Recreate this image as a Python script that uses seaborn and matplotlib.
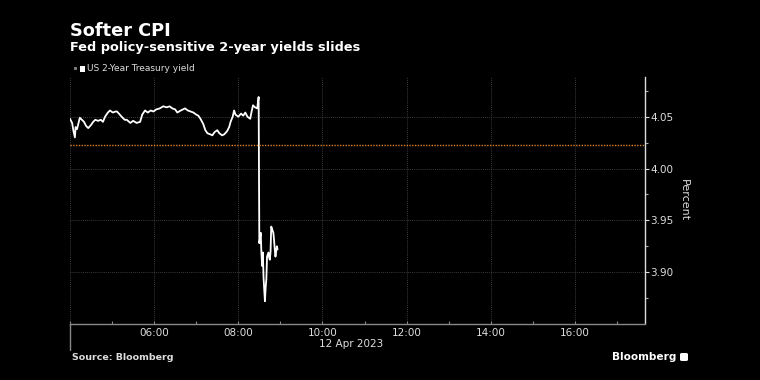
import matplotlib
matplotlib.use('Agg')
import matplotlib.pyplot as plt
import matplotlib.dates as mdates
import matplotlib.transforms as mtrans
from matplotlib.patches import Rectangle, FancyBboxPatch
import seaborn as sns
import pandas as pd

# ---------------- data ----------------
date = "2023-04-12"
times = ["04:00", "04:03", "04:05", "04:07", "04:08", "04:10", "04:14", "04:17", "04:20", "04:23",
         "04:26", "04:30", "04:33", "04:36", "04:40", "04:44", "04:47", "04:50", "04:54", "04:57",
         "05:01", "05:05", "05:07", "05:11", "05:15", "05:18", "05:21", "05:26", "05:30", "05:35",
         "05:40", "05:43", "05:47", "05:51", "05:55", "05:59", "06:03", "06:08", "06:13", "06:18",
         "06:22", "06:26", "06:30", "06:33", "06:38", "06:44", "06:48", "06:52", "06:56", "07:00",
         "07:03", "07:06", "07:10", "07:13", "07:16", "07:20", "07:23", "07:26", "07:30", "07:33",
         "07:37", "07:40", "07:44", "07:47", "07:49", "07:52", "07:54", "07:56", "08:00", "08:04",
         "08:07", "08:10", "08:13", "08:17", "08:19", "08:21", "08:24", "08:27", "08:29", "08:30",
         "08:32", "08:33", "08:34", "08:35", "08:36", "08:37", "08:38", "08:39", "08:40", "08:41",
         "08:43", "08:44", "08:45", "08:46", "08:47", "08:49", "08:50", "08:51", "08:52", "08:53",
         "08:55", "08:56"]
yields = [4.048, 4.044, 4.036, 4.030, 4.040, 4.038, 4.049, 4.047, 4.045, 4.041,
          4.039, 4.042, 4.045, 4.047, 4.046, 4.047, 4.045, 4.050, 4.054, 4.056,
          4.054, 4.055, 4.055, 4.052, 4.049, 4.047, 4.047, 4.044, 4.046, 4.044,
          4.045, 4.052, 4.056, 4.054, 4.056, 4.055, 4.057, 4.058, 4.060, 4.059,
          4.060, 4.058, 4.057, 4.054, 4.056, 4.058, 4.056, 4.055, 4.054, 4.052,
          4.051, 4.048, 4.043, 4.037, 4.034, 4.033, 4.032, 4.035, 4.037, 4.034,
          4.032, 4.033, 4.036, 4.040, 4.045, 4.050, 4.056, 4.052, 4.050, 4.053,
          4.051, 4.054, 4.050, 4.048, 4.055, 4.061, 4.059, 4.058, 4.069, 3.928,
          3.938, 3.918, 3.906, 3.919, 3.895, 3.883, 3.872, 3.885, 3.893, 3.915,
          3.919, 3.914, 3.912, 3.920, 3.944, 3.940, 3.938, 3.931, 3.922, 3.915,
          3.925, 3.922]
prev_close = 4.0225
y_ticks = [3.90, 3.95, 4.00, 4.05]
x_start, x_end = "04:00", "17:40"

title = "Softer CPI"
subtitle = "Fed policy-sensitive 2-year yields slides"
series_name = "US 2-Year Treasury yield"
date_label = "12 Apr 2023"
source = "Source: Bloomberg"

# ---------------- frame ----------------
df = pd.DataFrame({"time": pd.to_datetime([f"{date} {t}" for t in times]),
                   "yield": yields})

sns.set_theme(style="dark")
plt.rcParams['font.family'] = ['DejaVu Sans']
plt.rcParams['axes.facecolor'] = 'black'
plt.rcParams['figure.facecolor'] = 'black'

fig = plt.figure(figsize=(7.6, 3.8), dpi=100)
ax = fig.add_axes([70 / 760, 1 - 323.5 / 380, 575 / 760, (323.5 - 77.3) / 380])
ax.set_facecolor('black')

sns.lineplot(data=df, x="time", y="yield", ax=ax, color="white", linewidth=1.3, legend=False)
ax.axhline(prev_close, color="#d9822b", linestyle=(0, (1, 1)), linewidth=1.0)

ax.set_xlim(pd.Timestamp(f"{date} {x_start}"), pd.Timestamp(f"{date} {x_end}"))
ax.set_ylim(3.8505, 4.088)

# y axis on the right
ax.yaxis.tick_right()
ax.set_yticks(y_ticks)
ax.set_yticklabels([f"{v:.2f}" for v in y_ticks])
ax.set_yticks([3.875, 3.925, 3.975, 4.025, 4.075], minor=True)
ax.tick_params(axis='y', which='major', direction='out', length=3, width=0.8,
               colors='#dddddd', labelsize=7.5, pad=1, right=True, left=False)
ax.tick_params(axis='y', which='minor', direction='out', length=2, width=0.8,
               colors='#aaaaaa', right=True, left=False)

# x axis
ax.xaxis.set_major_locator(mdates.HourLocator(byhour=range(4, 18, 2)))
ax.xaxis.set_minor_locator(mdates.HourLocator(byhour=range(5, 18, 2)))
def fmt(x, pos):
    d = mdates.num2date(x)
    return "" if d.hour == 4 else d.strftime("%H:%M")
ax.xaxis.set_major_formatter(plt.FuncFormatter(fmt))
ax.tick_params(axis='x', which='both', direction='in', length=2, width=0.8,
               colors='#888888', labelcolor='#dddddd', labelsize=7.5, pad=3, bottom=True)

ax.set_xlabel("")
ax.set_ylabel("")

ax.grid(True, which='major', color='#4f4f4f', linestyle=(0, (1, 1.5)), linewidth=0.6)

for s in ['top', 'left']:
    ax.spines[s].set_visible(False)
ax.spines['right'].set_color('#dddddd')
ax.spines['right'].set_linewidth(1.0)
ax.spines['bottom'].set_color('#888888')
ax.spines['bottom'].set_linewidth(1.0)

# day separator tick below axis
trans = mtrans.blended_transform_factory(ax.transData, ax.transAxes)
x0 = mdates.date2num(pd.Timestamp(f"{date} {x_start}"))
ax.plot([x0, x0], [0, -26.5 / 246.2], transform=trans, color='#888888', lw=1.0, clip_on=False)

# texts
fig.text(70 / 760, 1 - 36 / 380, title, color='white', fontsize=12.8, fontweight='bold', va='baseline')
fig.text(70 / 760, 1 - 51 / 380, subtitle, color='white', fontsize=9.3, fontweight='bold', va='baseline')

fig.patches.append(Rectangle((74 / 760, 1 - 70 / 380), 3 / 760, 3 / 380, transform=fig.transFigure,
                             facecolor='#777777', edgecolor='none'))
fig.patches.append(Rectangle((79.5 / 760, 1 - 71.5 / 380), 5.5 / 760, 5.5 / 380, transform=fig.transFigure,
                             facecolor='white', edgecolor='none'))
fig.text(87 / 760, 1 - 68.5 / 380, series_name, color='#dddddd', fontsize=6.5, va='center')

fig.text(351 / 760, 1 - 344 / 380, date_label, color='#dddddd', fontsize=7.5, ha='center', va='center')
fig.text(684 / 760, 1 - 200 / 380, "Percent", color='#dddddd', fontsize=8, rotation=270,
         ha='center', va='center')

fig.text(72 / 760, 1 - 358 / 380, source, color='#dddddd', fontsize=6.8, fontweight='bold', va='center')
fig.text(612 / 760, 1 - 357 / 380, "Bloomberg", color='white', fontsize=7.6, fontweight='bold', va='center')
fig.patches.append(FancyBboxPatch((680 / 760, 1 - 361 / 380), 8 / 760, 8 / 380,
                                  boxstyle="round,pad=0,rounding_size=0.003", transform=fig.transFigure,
                                  facecolor='white', edgecolor='none'))

fig.savefig("out.png", dpi=100, facecolor='black')
